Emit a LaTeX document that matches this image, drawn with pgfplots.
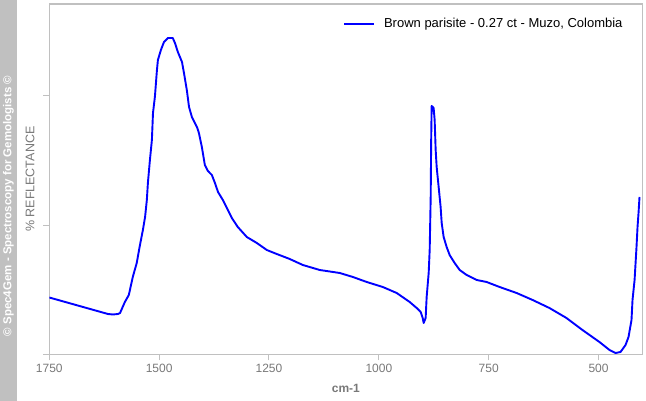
\documentclass[border=0pt]{standalone}
\usepackage{pgfplots}
\pgfplotsset{compat=1.18}
\usepackage{fontspec}
\setmainfont{Liberation Sans}
\definecolor{bandgray}{RGB}{192,192,192}
\definecolor{axisgray}{RGB}{192,192,192}
\definecolor{txtgray}{RGB}{120,120,120}
\definecolor{specblue}{RGB}{0,0,255}
\begin{document}
\begin{tikzpicture}
\useasboundingbox (0pt,0pt) rectangle (646pt,401pt);
\fill[bandgray] (0pt,0pt) rectangle (17pt,401pt);
\node[rotate=90, text=white, font=\fontsize{11.5}{13}\selectfont\bfseries, inner sep=0pt] at (8.5pt,195pt) {© Spec4Gem - Spectroscopy for Gemologists ©};
\begin{axis}[
  at={(49.3pt,46.5pt)}, anchor=south west,
  scale only axis,
  width=593.2pt, height=350.5pt,
  x dir=reverse,
  xmin=400, xmax=1750,
  ymin=0, ymax=350.5,
  xtick={500,750,1000,1250,1500,1750},
  ytick={0,129.3,258.6},
  yticklabels={},
  xtick pos=bottom, ytick pos=left,
  tick align=outside,
  major tick length=6pt,
  tick style={draw=axisgray, line width=1pt},
  axis line style={draw=axisgray, line width=1.2pt},
  /pgf/number format/assume math mode=true,
  /pgf/number format/1000 sep={},
  xticklabel style={font=\fontsize{12}{14}\selectfont, text=txtgray},
  xlabel={cm-1},
  xlabel style={at={(axis description cs:0.5,-0.098)}, anchor=center, font=\fontsize{12}{14}\selectfont\bfseries, text=txtgray},
  ylabel={\% REFLECTANCE},
  ylabel style={at={(axis description cs:-0.0325,0.5)}, anchor=center, font=\fontsize{12.5}{14}\selectfont, text=txtgray},
  legend style={draw=none, fill=none, at={(axis description cs:0.97,0.943)}, anchor=east, font=\fontsize{13}{15}\selectfont, inner sep=0pt},
  legend image code/.code={\draw[#1, line width=2pt] (0pt,0pt) -- (30pt,0pt); \path (37pt,0pt);},
  legend cell align=left,
]
\addplot[specblue, line width=1.9pt, line join=round] coordinates {
(1750,57) (1616.5,40.5) (1605,40) (1593.8,40.5) (1589,41.5) (1578,52.5) (1569,59.5)
(1560,77.5) (1551,91.5) (1544.5,107.5) (1537,124.5) (1532,137.5) (1528,154.5)
(1525.6,171.5) (1521,194.5) (1516.5,214.5) (1514,241.5) (1509.7,257.5) (1505,284.5)
(1502.8,294.5) (1496,304.5) (1489,312.5) (1480,316.5) (1469,316.5) (1464,311.5)
(1457.4,302.5) (1448,292.5) (1443.5,281.5) (1437,264.5) (1432,247.5) (1425.5,237.5)
(1414,227.5) (1409.5,221.5) (1402.8,207.5) (1396,189.5) (1389,183.5) (1380,179.5)
(1373,171.5) (1366,162.5) (1355,154.5) (1346,146.5) (1334.6,136.5) (1321,127.5)
(1300.5,117.5) (1277.7,111.5) (1255,104.5) (1232.3,100.5) (1202.8,95.5) (1173,89.5)
(1134.5,84.5) (1089,81.5) (1059,77.5) (1027.6,72.5) (991,67.5) (959.4,61.5)
(929.8,52.5) (913.9,46.5) (904.8,42.5) (900.2,36.5) (898,31.5) (893.5,36.5)
(891.2,57.5) (886.6,81.5) (884.3,104.5) (882,157.5) (880.9,214.5) (879.8,248.5)
(875.3,246.5) (873,234.5) (870.7,204.5) (868.4,187.5) (863.9,167.5) (859.4,147.5)
(857,131.5) (852.5,117.5) (845.7,107.5) (838.9,99.5) (827.5,91.5) (816,84.5)
(800.2,79.5) (777.4,74.5) (754.7,72.5) (725.2,67.5) (686.5,61.5) (650,54.5)
(611.8,46.5) (573,36.5) (536.6,24.5) (498,12.5) (475,4.5) (461.4,1.5) (450,2.5)
(438.6,9.5) (431.8,17.5) (425,34.5) (422.7,54.5) (418,74.5) (413.6,107.5)
(411.3,127.5) (409,141.5) (406.8,157.5)
};
\addlegendentry{Brown parisite - 0.27 ct - Muzo, Colombia}
\end{axis}
\end{tikzpicture}
\end{document}
